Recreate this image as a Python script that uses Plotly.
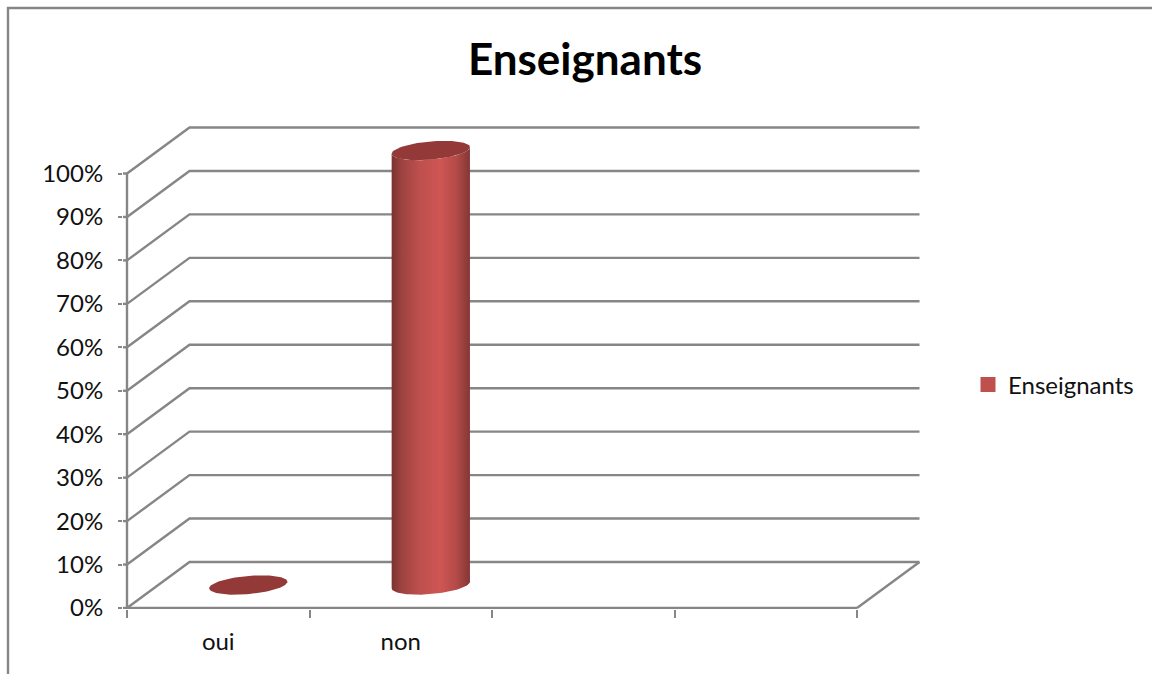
import numpy as np
import plotly.graph_objects as go

categories = ["oui", "non", "", ""]
series_name = "Enseignants"
values = [0, 100]
y_ticks = [0, 10, 20, 30, 40, 50, 60, 70, 80, 90, 100]
y_labels = [f"{v}%" for v in y_ticks]

W, H = 1152, 674
L, R, T, B = 127, 857, 173.5, 608     # front face of the box, in pixels
PL, PR, PT, PB = 123, 921, 125, 609   # plotting window, larger than the box
GRID = "#868686"
FONT = "Lato"
n = len(categories)
CAT_PX = (R - L) / n
PCT_PX = (B - T) / 100
DX, DY = 62.5 / CAT_PX, 46 / PCT_PX   # depth of the pseudo-3D box, in axis units
RX = 0.202                            # cylinder half width along x
K = 0.211                             # cylinder half depth, as share of box depth
BAR_SHIFT = -1.2 / CAT_PX             # small nudge of the cylinders along x

fig = go.Figure()

def line(xs, ys):
    fig.add_trace(go.Scatter(x=xs, y=ys, mode="lines",
                             line=dict(color=GRID, width=2.4, simplify=False),
                             hoverinfo="skip", showlegend=False))

for v in y_ticks:
    line([0, DX, n + DX], [v, v + DY, v + DY])
line([n, n + DX], [0, DY])
line([0, n], [0, 0])
for v in y_ticks:                     # short ticks joining the labels to the front axis
    line([-8 / CAT_PX, 0], [v, v])

def ellipse_point(cx, cy, t):
    x = cx + DX / 2 + BAR_SHIFT + RX * np.cos(t) + K * DX * np.sin(t)
    y = cy + DY / 2 + K * DY * np.sin(t)
    return x, y

t0 = np.arctan2(K * DX, RX)
for i, v in enumerate(values):
    cx = i + 0.5
    if v > 0:
        t = np.linspace(t0 - np.pi, t0, 60)   # front half, left to right
        bx, by = ellipse_point(cx, 0, t)
        tx, ty = ellipse_point(cx, v, t[::-1])
        fig.add_trace(go.Scatter(
            x=np.r_[bx, tx], y=np.r_[by, ty], mode="lines", line=dict(width=0),
            fill="toself",
            fillgradient=dict(type="horizontal", colorscale=[
                [0, "#7a3230"], [0.12, "#9c4240"], [0.35, "#bd4f4c"], [0.62, "#cf5653"],
                [0.82, "#b54b49"], [1, "#843735"]]),
            hoverinfo="skip", showlegend=False))
    t = np.linspace(0, 2 * np.pi, 90)
    ex, ey = ellipse_point(cx, v, t)
    fig.add_trace(go.Scatter(x=ex, y=ey, mode="lines", line=dict(width=0), fill="toself",
                             fillcolor="#933a38", hoverinfo="skip", showlegend=False))

fig.add_trace(go.Scatter(x=[None], y=[None], mode="markers", name=series_name,
                         marker=dict(symbol="square", size=15, color="#C0504D")))

pw, ph = PR - PL, PB - PT
fig.update_layout(
    width=W, height=H, autosize=False,
    margin=dict(l=PL, r=W - PR, t=PT, b=H - PB, autoexpand=False),
    paper_bgcolor="white", plot_bgcolor="rgba(0,0,0,0)",
    font=dict(family=FONT, size=24, color="#111111"),
    title=dict(text="<b>Enseignants</b>", x=585 / W, xref="container", xanchor="center",
               y=1 - 60 / H, yref="container", yanchor="middle",
               font=dict(family=FONT, size=44, color="black")),
    showlegend=True,
    legend=dict(x=(968 - PL) / pw, xanchor="left", y=(PB - 385) / ph, yanchor="middle",
                bgcolor="rgba(0,0,0,0)", font=dict(family=FONT, size=24), itemwidth=30),
    xaxis=dict(range=[(PL - L) / CAT_PX, (PR - L) / CAT_PX], tickmode="array",
               tickvals=[i + 0.5 for i in range(n)],
               ticktext=categories, ticks="", showgrid=False, zeroline=False,
               showline=False, ticklabelstandoff=16,
               minor=dict(tickmode="array", tickvals=list(range(n + 1)), ticks="outside",
                          ticklen=8, tickwidth=2.4, tickcolor=GRID, showgrid=False)),
    yaxis=dict(range=[(B - PB) / PCT_PX, (B - PT) / PCT_PX], tickmode="array",
               tickvals=y_ticks, ticktext=y_labels,
               ticks="outside", ticklen=4, tickwidth=2.4, tickcolor=GRID, showgrid=False,
               zeroline=False, showline=False, ticklabelstandoff=10),
    shapes=[dict(type="rect", xref="paper", yref="paper", layer="below",
                 x0=(8 - PL) / pw, x1=(W + 20 - PL) / pw,
                 y0=(PB - H - 20) / ph, y1=(PB - 8) / ph,
                 line=dict(color=GRID, width=2.4), fillcolor="rgba(0,0,0,0)"),
            dict(type="line", xref="x", yref="y", layer="above",
                 x0=0, x1=0, y0=y_ticks[0], y1=y_ticks[-1],
                 line=dict(color=GRID, width=2.4))],
)

fig.write_html("out.html", config=dict(displayModeBar=False),
               post_script="document.body.style.margin='0';")
